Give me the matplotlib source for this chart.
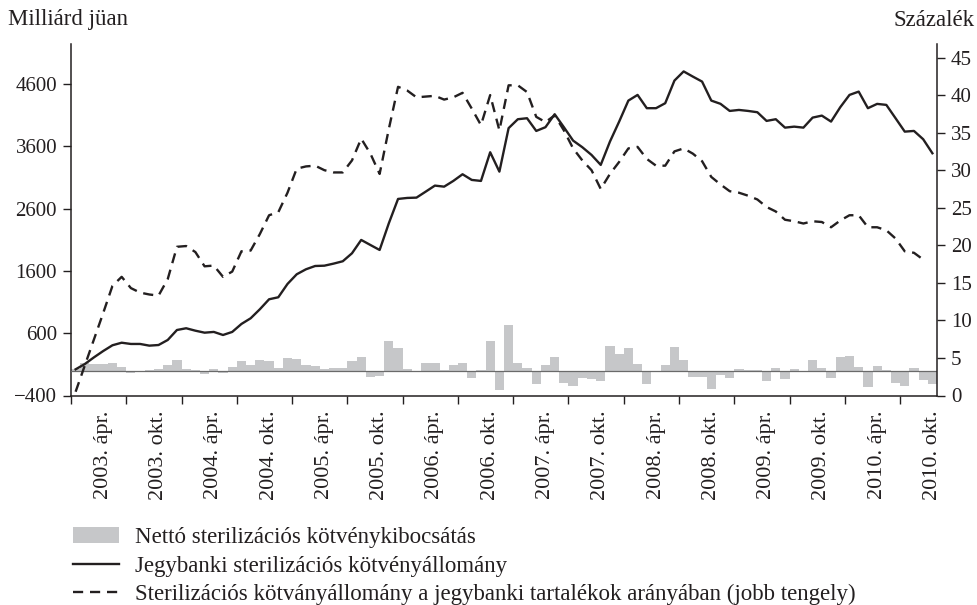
import matplotlib
matplotlib.use("Agg")
import matplotlib.pyplot as plt
from matplotlib.patches import Patch
from matplotlib.lines import Line2D
import numpy as np

plt.rcParams["font.family"] = ["Liberation Serif", "DejaVu Serif"]

# monthly data, 2003 Jan - 2010 Oct
stock = [20, 105, 213, 314, 406, 447, 427, 427, 400, 410,
         491, 651, 679, 640, 608, 620, 571, 620, 748, 839,
         984, 1144, 1176, 1390, 1545, 1625, 1678, 1683, 1716, 1754,
         1882, 2096, 2015, 1935, 2364, 2754, 2770, 2775, 2871, 2968,
         2951, 3043, 3150, 3059, 3043, 3503, 3192, 3890, 4033, 4049,
         3845, 3905, 4113, 3905, 3690, 3584, 3460, 3300, 3674, 3995,
         4332, 4423, 4210, 4210, 4290, 4653, 4800, 4717, 4637, 4332,
         4280, 4166, 4182, 4166, 4145, 4006, 4033, 3898, 3914, 3898,
         4059, 4091, 3995, 4226, 4423, 4476, 4210, 4279, 4263, 4049,
         3834, 3845, 3712, 3487]

net_issue = [30, 115, 107, 107, 128, 53, -43, 0, 8, 27,
             93, 171, 27, 5, -59, 27, -43, 64, 155, 93,
             171, 155, 42, 205, 185, 95, 78, 27, 37, 37,
             155, 225, -96, -80, 476, 369, 27, 0, 123, 123,
             8, 91, 123, -112, 8, 476, -305, 733, 125, 42,
             -219, 91, 225, -203, -241, -118, -134, -163, 401, 268,
             369, 107, -219, 0, 91, 385, 171, -96, -96, -300,
             -75, -112, 27, 8, 8, -160, 37, -128, 27, 0,
             171, 37, -112, 214, 235, 58, -270, 75, 8, -203,
             -241, 37, -145, -219]

# percent of reserves, 2003 Jan - 2010 Sep
ratio = [0.5, 4.0, 7.5, 11.0, 14.6, 15.8, 14.3, 13.7, 13.45, 13.3,
         15.5, 19.8, 19.9, 19.1, 17.2, 17.3, 15.8, 16.5, 19.2, 19.3,
         21.5, 24.0, 24.4, 27.0, 30.2, 30.5, 30.6, 30.0, 29.7, 29.7,
         31.3, 34.2, 32.2, 29.5, 35.5, 41.1, 40.6, 39.7, 39.8, 39.9,
         39.4, 39.7, 40.3, 38.2, 36.0, 40.0, 35.3, 41.3, 41.3, 40.4,
         37.1, 36.4, 37.3, 35.3, 32.9, 31.3, 30.0, 27.5, 29.5, 31.1,
         32.9, 33.1, 31.5, 30.6, 30.6, 32.5, 32.9, 32.2, 31.2, 29.1,
         28.1, 27.2, 27.0, 26.6, 26.1, 25.1, 24.5, 23.4, 23.2, 22.9,
         23.2, 23.1, 22.4, 23.3, 24.0, 24.0, 22.4, 22.4, 22.0, 20.9,
         19.2, 19.0, 18.1]

tick_labels = ["2003. ápr.", "2003. okt.", "2004. ápr.", "2004. okt.",
               "2005. ápr.", "2005. okt.", "2006. ápr.", "2006. okt.",
               "2007. ápr.", "2007. okt.", "2008. ápr.", "2008. okt.",
               "2009. ápr.", "2009. okt.", "2010. ápr.", "2010. okt."]

legend_labels = ["Nettó sterilizációs kötvénykibocsátás",
                 "Jegybanki sterilizációs kötvényállomány",
                 "Sterilizációs kötványállomány a jegybanki tartalékok arányában (jobb tengely)"]

ink = "#231f20"
bar_color = "#c6c7c9"
fs_num = 15
fs_txt = 16.5

fig = plt.figure(figsize=(9.78, 6.05), dpi=100)
ax = fig.add_axes([71 / 978, 1 - 395.5 / 605, 866 / 978, 351.5 / 605])
ax2 = ax.twinx()

x = np.arange(len(stock))
ax.bar(x, net_issue, width=1.0, color=bar_color, linewidth=0, zorder=2)
ax.axhline(0, color="#6a6a6a", lw=0.9, zorder=3)
ax.plot(x, stock, color=ink, lw=1.7, zorder=4)
ax2.plot(np.arange(len(ratio)), ratio, color=ink, lw=1.7,
         linestyle=(0, (4.3, 2.9)))

ax.set_xlim(-0.5, len(stock) - 0.5)
ax.set_ylim(-400, 5240)
ax2.set_ylim(0, 46.8)

ax.set_yticks([-400, 600, 1600, 2600, 3600, 4600])
ax.set_yticklabels(["\u2212400", "600", "1600", "2600", "3600", "4600"])
ax2.set_yticks(range(0, 50, 5))

# ticks between half-years, labels on April / October
ax.set_xticks(np.arange(-0.5, len(stock) - 1, 6))
ax.set_xticklabels([])
ax.set_xticks(np.arange(3, len(stock), 6), minor=True)
ax.set_xticklabels(tick_labels, minor=True, rotation=90)
ax.tick_params(axis="x", which="major", direction="out", length=6, width=1, color=ink)
ax.tick_params(axis="x", which="minor", length=0, pad=11, labelsize=16, labelcolor=ink)
ax.tick_params(axis="y", direction="out", length=6, width=1, color=ink,
               labelsize=fs_num, labelcolor=ink, pad=4)
ax2.tick_params(axis="y", direction="out", length=6, width=1, color=ink,
                labelsize=fs_num, labelcolor=ink, pad=4)

for a in (ax, ax2):
    a.spines["top"].set_visible(False)
    for s in a.spines.values():
        s.set_color(ink)
        s.set_linewidth(1.1)
ax2.spines["left"].set_visible(False)
ax2.spines["bottom"].set_visible(False)
ax.spines["right"].set_visible(False)

fig.text(8 / 978, 1 - 20 / 605, "Milliárd jüan", fontsize=fs_txt, color=ink,
         ha="left", va="center")
fig.text(975 / 978, 1 - 20 / 605, "Százalék", fontsize=fs_txt, color=ink,
         ha="right", va="center")

handles = [Patch(facecolor=bar_color, edgecolor="none"),
           Line2D([], [], color=ink, lw=1.7),
           Line2D([], [], color=ink, lw=1.7, linestyle=(0, (4.3, 2.9)))]
fig.legend(handles, legend_labels, loc="upper left",
           bbox_to_anchor=(64 / 978, 1 - 518 / 605), frameon=False,
           fontsize=fs_txt, labelcolor=ink, handlelength=2.0, handleheight=0.7,
           handletextpad=0.68, labelspacing=0.32, borderaxespad=0)

fig.savefig("out.png", dpi=100)
